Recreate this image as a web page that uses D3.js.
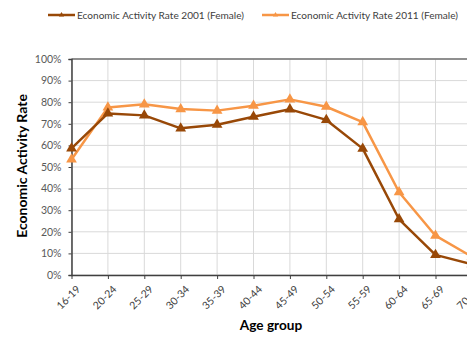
<!DOCTYPE html>
<html><head><meta charset="utf-8">
<script src="https://cdn.jsdelivr.net/npm/d3@7"></script>
<style>body{margin:0;background:#fff;overflow:hidden}svg{display:block}</style>
</head><body>
<svg id="c" width="467" height="338"></svg>
<script>
const categories = ["16-19","20-24","25-29","30-34","35-39","40-44","45-49","50-54","55-59","60-64","65-69","70-74"];
const rate2001 = [58.6,74.8,73.9,67.9,69.6,73.3,76.7,71.8,58.5,25.8,9.3,5.0];
const rate2011 = [53.5,77.6,79.0,76.8,76.1,78.4,81.3,77.9,70.8,38.3,18.2,8.5];
const yTicks = [0,10,20,30,40,50,60,70,80,90,100];
const seriesNames = ["Economic Activity Rate 2001 (Female)","Economic Activity Rate 2011 (Female)"];
const colors = ["#984807","#f79646"];

const svg = d3.select("#c");
const pLeft = 71.5, pTop = 59, pBottom = 275;
const step = 36.4;
const pRight = pLeft + step*(categories.length-1);
const font = "Lato, 'Open Sans', sans-serif";

const x = d3.scalePoint().domain(categories).range([pLeft, pRight]);
const y = d3.scaleLinear().domain([0,100]).range([pBottom, pTop]);

// gridlines
svg.append("g").selectAll("line").data(yTicks).join("line")
  .attr("x1", pLeft).attr("x2", pRight+20).attr("y1", d=>y(d)).attr("y2", d=>y(d))
  .attr("stroke","#d9d9d9").attr("stroke-width",1);
svg.append("g").selectAll("line").data(categories).join("line")
  .attr("x1", d=>x(d)).attr("x2", d=>x(d)).attr("y1", pTop).attr("y2", pBottom)
  .attr("stroke","#d9d9d9").attr("stroke-width",1);
// top border
svg.append("line").attr("x1",pLeft).attr("x2",pRight+20).attr("y1",pTop).attr("y2",pTop)
  .attr("stroke","#707070").attr("stroke-width",1.5);

// axes
const yAxis = d3.axisLeft(y).tickValues(yTicks).tickFormat(d=>d+"%").tickSize(3).tickPadding(7);
const gy = svg.append("g").attr("transform",`translate(${pLeft},0)`).call(yAxis);
gy.select(".domain").attr("stroke","#404040").attr("stroke-width",1.5);
gy.selectAll(".tick line").attr("stroke","#404040");
gy.selectAll("text").attr("font-family",font).attr("font-size",10.5).attr("fill","#595959");

const xAxis = d3.axisBottom(x).tickSize(4).tickSizeOuter(0);
const gx = svg.append("g").attr("transform",`translate(0,${pBottom})`).call(xAxis);
gx.select(".domain").attr("stroke","#404040").attr("stroke-width",1.5).attr("d",`M${pLeft},0.5H${pRight+20}`);
gx.selectAll(".tick line").attr("stroke","#404040");
gx.selectAll("text").attr("font-family",font).attr("font-size",10.5).attr("fill","#404040")
  .attr("text-anchor","end").attr("dy",0).attr("transform","translate(4,10) rotate(-45)");

// lines
const series = [rate2001, rate2011];
const line = d3.line().x((d,i)=>x(categories[i])).y(d=>y(d));
const tri = d3.symbol().type(d3.symbolTriangle).size(50);
[1,0].forEach(si=>{
  const data = series[si];
  svg.append("path").datum(data).attr("d",line).attr("fill","none")
    .attr("stroke",colors[si]).attr("stroke-width",2.5).attr("stroke-linejoin","round");
  svg.append("g").selectAll("path").data(data).join("path")
    .attr("d",tri).attr("transform",(d,i)=>`translate(${x(categories[i])},${y(d)})`)
    .attr("fill",colors[si]);
});

// titles
svg.append("text").attr("x",271).attr("y",330).attr("text-anchor","middle")
  .attr("font-family",font).attr("font-weight","bold").attr("font-size",13.6).attr("fill","#000")
  .text("Age group");
svg.append("text").attr("transform","translate(27,166) rotate(-90)").attr("text-anchor","middle")
  .attr("font-family",font).attr("font-weight","bold").attr("font-size",14).attr("fill","#000")
  .text("Economic Activity Rate");

// legend
const legX = [48, 262];
seriesNames.forEach((name,i)=>{
  const g = svg.append("g");
  g.append("line").attr("x1",legX[i]).attr("x2",legX[i]+27).attr("y1",15).attr("y2",15)
    .attr("stroke",colors[i]).attr("stroke-width",2.5);
  g.append("path").attr("d",d3.symbol().type(d3.symbolTriangle).size(12)).attr("transform",`translate(${legX[i]+13.5},15)`).attr("fill",colors[i]);
  g.append("text").attr("x",legX[i]+29).attr("y",18.5).attr("font-family",font).attr("font-size",10)
    .attr("textLength",167).attr("lengthAdjust","spacingAndGlyphs")
    .attr("fill","#404040").text(name);
});
</script>
</body></html>
